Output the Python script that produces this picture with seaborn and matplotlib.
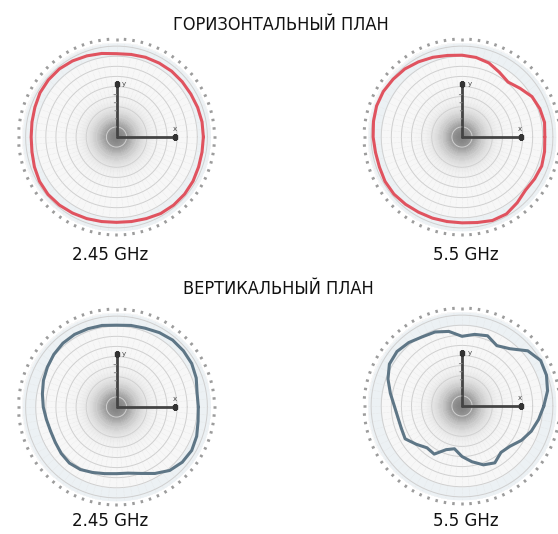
import numpy as np
import pandas as pd
import matplotlib.pyplot as plt
import seaborn as sns

# angles of the samples, degrees (every 10)
ANGLES_DEG = list(range(0, 360, 10))

# normalised radiation level (1.0 = outer scale ring)
H_245 = [0.86, 0.86, 0.855, 0.85, 0.85, 0.85, 0.845, 0.84, 0.83, 0.825, 0.84, 0.855,
         0.87, 0.88, 0.88, 0.875, 0.86, 0.85, 0.845, 0.85, 0.865, 0.88, 0.885, 0.88,
         0.87, 0.86, 0.85, 0.845, 0.85, 0.86, 0.875, 0.88, 0.88, 0.875, 0.865, 0.86]
H_55 = [0.82, 0.83, 0.82, 0.80, 0.75, 0.71, 0.74, 0.78, 0.80, 0.81, 0.82, 0.84,
        0.86, 0.88, 0.89, 0.90, 0.90, 0.89, 0.88, 0.87, 0.87, 0.88, 0.88, 0.87,
        0.86, 0.855, 0.85, 0.85, 0.86, 0.88, 0.88, 0.85, 0.82, 0.83, 0.84, 0.83]
V_245 = [0.81, 0.81, 0.84, 0.86, 0.865, 0.865, 0.85, 0.83, 0.82, 0.81, 0.82, 0.825,
         0.83, 0.825, 0.81, 0.79, 0.77, 0.745, 0.725, 0.705, 0.695, 0.70, 0.715, 0.725,
         0.715, 0.69, 0.67, 0.66, 0.665, 0.70, 0.76, 0.82, 0.85, 0.86, 0.845, 0.82]
V_55 = [0.81, 0.86, 0.89, 0.90, 0.85, 0.74, 0.69, 0.74, 0.72, 0.69, 0.75, 0.78,
        0.79, 0.82, 0.84, 0.83, 0.78, 0.72, 0.67, 0.645, 0.64, 0.65, 0.59, 0.54,
        0.55, 0.46, 0.43, 0.50, 0.56, 0.62, 0.65, 0.60, 0.62, 0.68, 0.73, 0.77]

TITLES = ["ГОРИЗОНТАЛЬНЫЙ ПЛАН", "ВЕРТИКАЛЬНЫЙ ПЛАН"]
FREQ_LABELS = ["2.45 GHz", "5.5 GHz"]

RED = "#e0535f"
BLUE = "#5e7686"

W, H = 558, 534


def rect(cx, cy, r=101):
    return [(cx - r) / W, (H - cy - r) / H, 2 * r / W, 2 * r / H]


def draw_pattern(fig, box, values, color):
    ax = fig.add_axes(box, projection="polar")
    ax.set_ylim(0, 1.0)
    ax.axis("off")

    # shaded disc, darker towards the centre
    t = np.linspace(0, 2 * np.pi, 181)
    rr = np.linspace(0, 0.93, 90)
    T, R = np.meshgrid(t, rr)
    Z = 0.07 + 0.5 * np.exp(-(R / 0.24) ** 2)
    ax.pcolormesh(T, R, Z, cmap="Greys", vmin=0, vmax=1, shading="auto", zorder=0)
    ax.fill_between(t, 0.80, 0.93, color="#e8eff4", alpha=0.7, lw=0, zorder=1)

    # rings and spokes
    for r in np.arange(0.1, 0.95, 0.1):
        ax.plot(t, np.full_like(t, r), color="#cfcfcf", lw=0.7, zorder=2)
    for a in np.deg2rad(np.arange(0, 360, 5)):
        ax.plot([a, a], [0.3, 0.93], color="#e2e2e2", lw=0.4, ls=(0, (1, 1.5)), zorder=2)
        ax.plot([a, a], [0.955, 0.985], color="#9c9c9c", lw=1.8, zorder=2,
                solid_capstyle="butt")

    # local axes
    ax.plot([np.pi / 2, np.pi / 2], [0, 0.52], color="#444444", lw=2, zorder=4)
    ax.plot([0, 0], [0, 0.58], color="#444444", lw=2, zorder=4)
    ax.plot([np.pi / 2, 0], [0.52, 0.58], ls="none", marker="s", ms=3.5,
            color="#333333", zorder=5)
    for r in np.arange(0.1, 0.5, 0.08):
        ax.plot([np.pi / 2 + 0.06, np.pi / 2], [r, r], color="#888888", lw=0.8, zorder=4)
    ax.text(np.deg2rad(84), 0.51, "y", fontsize=5, color="#444444", zorder=5)
    ax.text(np.deg2rad(6), 0.56, "x", fontsize=5, color="#444444", zorder=5)

    df = pd.DataFrame({
        "theta": np.deg2rad(ANGLES_DEG + [ANGLES_DEG[0]]),
        "r": values + [values[0]],
    })
    sns.lineplot(data=df, x="theta", y="r", sort=False, estimator=None,
                 color=color, lw=2.2, ax=ax, zorder=6)
    ax.set_xlabel("")
    ax.set_ylabel("")
    ax.set_ylim(0, 1.0)
    return ax


sns.set_theme(style="white")
plt.rcParams["font.family"] = ["DejaVu Sans"]

fig = plt.figure(figsize=(W / 100, H / 100), dpi=100)

draw_pattern(fig, rect(116.5, 137), H_245, RED)
draw_pattern(fig, rect(462, 137), H_55, RED)
draw_pattern(fig, rect(116.5, 407), V_245, BLUE)
draw_pattern(fig, rect(462, 406), V_55, BLUE)

fig.text(281 / W, 1 - 25 / H, TITLES[0], ha="center", va="center",
         fontsize=13, fontstretch="condensed", color="#111111")
fig.text(278 / W, 1 - 289 / H, TITLES[1], ha="center", va="center",
         fontsize=13, fontstretch="condensed", color="#111111")

fig.text(110 / W, 1 - 255 / H, FREQ_LABELS[0], ha="center", va="center",
         fontsize=12, color="#111111")
fig.text(466 / W, 1 - 255 / H, FREQ_LABELS[1], ha="center", va="center",
         fontsize=12, color="#111111")
fig.text(110 / W, 1 - 521 / H, FREQ_LABELS[0], ha="center", va="center",
         fontsize=12, color="#111111")
fig.text(466 / W, 1 - 521 / H, FREQ_LABELS[1], ha="center", va="center",
         fontsize=12, color="#111111")

fig.savefig("out.png", dpi=100, facecolor="white")
